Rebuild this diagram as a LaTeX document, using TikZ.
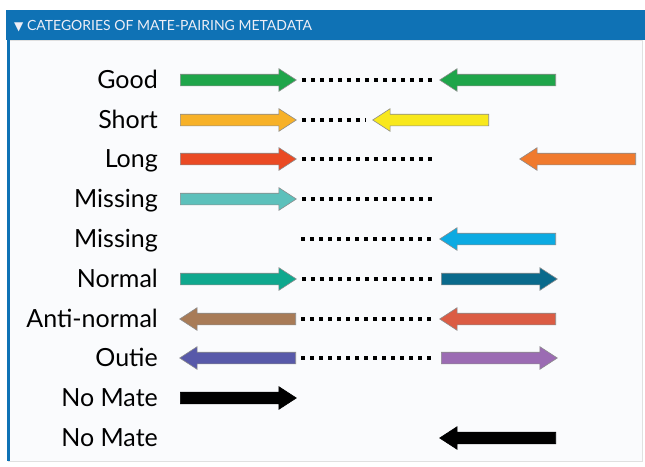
\documentclass[tikz,border=0pt]{standalone}
\usepackage{fontspec}
\setmainfont{Lato}
\newfontfamily\symfont{DejaVu Sans}
\usetikzlibrary{shapes.arrows}

\definecolor{barblue}{HTML}{0F72B5}
\definecolor{pagebg}{HTML}{FAFBFD}
\definecolor{headtxt}{HTML}{EEEEF6}
\definecolor{cgood}{HTML}{1FA54A}
\definecolor{cshortl}{HTML}{F7B128}
\definecolor{cshortr}{HTML}{F8E81C}
\definecolor{clongl}{HTML}{EA4A24}
\definecolor{clongr}{HTML}{F07A2E}
\definecolor{cmissl}{HTML}{5CC0BB}
\definecolor{cmissr}{HTML}{0CAAE2}
\definecolor{cnorml}{HTML}{0FA88E}
\definecolor{cnormr}{HTML}{0A6A8C}
\definecolor{cantil}{HTML}{A87B57}
\definecolor{cantir}{HTML}{DB5C44}
\definecolor{coutl}{HTML}{5859A9}
\definecolor{coutr}{HTML}{9B6BB3}

\begin{document}
\begin{tikzpicture}[x=1pt,y=-1pt,
    fatarrow/.style={single arrow, draw=black!45, line width=0.6pt, inner sep=0pt,
        text height=5.5pt, text depth=5.5pt, minimum height=116pt,
        single arrow head extend=5.5pt, single arrow tip angle=66, anchor=tail},
    leftwards/.style={shape border rotate=180},
    catlabel/.style={anchor=base east, font=\fontsize{25}{25}\selectfont, inner sep=0pt},
    dots/.style={line width=4pt, dash pattern=on 4pt off 5pt, shorten <=5pt, shorten >=6pt}]

        \useasboundingbox (0,0) rectangle (645,466);

        %frame
        \fill[white] (0,0) rectangle (645,466);
        \filldraw[fill=pagebg, draw=black!12] (8,40) rectangle (642,461);
        \draw[barblue, line width=3.5pt] (8.5,40) -- (8.5,461);
        \fill[barblue] (6,10) rectangle (645,40);
        \node[anchor=base west, inner sep=0pt, text=headtxt, font=\fontsize{14}{14}\selectfont] (title) at (14,30)
            {{\symfont\fontsize{12}{12}\selectfont ▼} CATEGORIES OF MATE-PAIRING METADATA};

        %labels
        \node[catlabel] (l1) at (158,88) {Good};
        \node[catlabel] (l2) at (158,128) {Short};
        \node[catlabel] (l3) at (158,167) {Long};
        \node[catlabel] (l4) at (158,207) {Missing};
        \node[catlabel] (l5) at (158,247) {Missing};
        \node[catlabel] (l6) at (158,287) {Normal};
        \node[catlabel] (l7) at (158,327) {Anti-normal};
        \node[catlabel] (l8) at (158,366) {Outie};
        \node[catlabel] (l9) at (158,406) {No Mate};
        \node[catlabel] (l10) at (158,446) {No Mate};

        %left reads
        \node[fatarrow, fill=cgood] (a1) at (180,80) {};
        \node[fatarrow, fill=cshortl] (a2) at (180,120) {};
        \node[fatarrow, fill=clongl] (a3) at (180,159) {};
        \node[fatarrow, fill=cmissl] (a4) at (180,199) {};
        \node[fatarrow, fill=cnorml] (a6) at (180,279) {};
        \node[fatarrow, leftwards, fill=cantil] (a7) at (296,319) {};
        \node[fatarrow, leftwards, fill=coutl] (a8) at (296,358) {};
        \node[fatarrow, fill=black, draw=black] (a9) at (180,398) {};

        %right reads
        \node[fatarrow, leftwards, fill=cgood] (b1) at (556,80) {};
        \node[fatarrow, leftwards, fill=cshortr] (b2) at (489,120) {};
        \node[fatarrow, leftwards, fill=clongr] (b3) at (636,159) {};
        \node[fatarrow, leftwards, fill=cmissr] (b5) at (556,239) {};
        \node[fatarrow, fill=cnormr] (b6) at (441,279) {};
        \node[fatarrow, leftwards, fill=cantir] (b7) at (556,319) {};
        \node[fatarrow, fill=coutr] (b8) at (441,358) {};
        \node[fatarrow, leftwards, fill=black, draw=black] (b10) at (556,438) {};

        \coordinate (a5) at (296,239);
        \coordinate (b3') at (441,159);
        \coordinate (b4) at (441,199);

        %dotted gaps
        \draw[dots] (a1.tip) -- (b1.tip);
        \draw[dots] (a2.tip) -- (b2.tip);
        \draw[dots] (a3.tip) -- (b3');
        \draw[dots] (a4.tip) -- (b4);
        \draw[dots] (a5) -- (b5.tip);
        \draw[dots] (a6.tip) -- (b6.tail);
        \draw[dots] (a7.tail) -- (b7.tip);
        \draw[dots] (a8.tail) -- (b8.tail);
\end{tikzpicture}
\end{document}
